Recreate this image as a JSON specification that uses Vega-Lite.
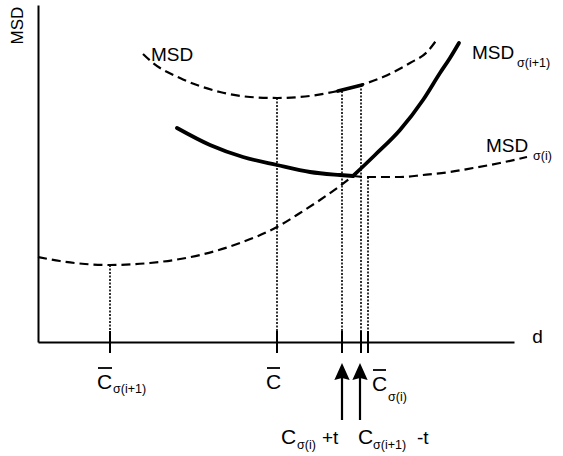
{
  "$schema": "https://vega.github.io/schema/vega-lite/v6.json",
  "width": 476,
  "height": 337,
  "autosize": {"type": "none"},
  "padding": {"left": 38, "top": 5, "right": 49, "bottom": 114},
  "background": "white",
  "config": {"view": {"stroke": null}, "font": "Liberation Sans"},
  "datasets": {
    "curves": [
      {"series": "MSD", "style": "dashed", "d": 105, "m": 288},
      {"series": "MSD", "style": "dashed", "d": 115, "m": 279},
      {"series": "MSD", "style": "dashed", "d": 142, "m": 264},
      {"series": "MSD", "style": "dashed", "d": 182, "m": 250},
      {"series": "MSD", "style": "dashed", "d": 212, "m": 245},
      {"series": "MSD", "style": "dashed", "d": 239, "m": 244},
      {"series": "MSD", "style": "dashed", "d": 262, "m": 245},
      {"series": "MSD", "style": "dashed", "d": 295, "m": 250},
      {"series": "MSD", "style": "dashed", "d": 304, "m": 252},
      {"series": "MSD", "style": "dashed", "d": 323, "m": 257},
      {"series": "MSD", "style": "dashed", "d": 345, "m": 265},
      {"series": "MSD", "style": "dashed", "d": 372, "m": 279},
      {"series": "MSD", "style": "dashed", "d": 389, "m": 290},
      {"series": "MSD", "style": "dashed", "d": 400, "m": 304},
      {"series": "MSD_seg", "style": "solid", "d": 300, "m": 251},
      {"series": "MSD_seg", "style": "solid", "d": 312, "m": 254},
      {"series": "MSD_seg", "style": "solid", "d": 324, "m": 257},
      {"series": "Si_left", "style": "solid", "d": 139, "m": 214},
      {"series": "Si_left", "style": "solid", "d": 172, "m": 197},
      {"series": "Si_left", "style": "solid", "d": 205, "m": 185},
      {"series": "Si_left", "style": "solid", "d": 239, "m": 177},
      {"series": "Si_left", "style": "solid", "d": 272, "m": 170},
      {"series": "Si_left", "style": "solid", "d": 302, "m": 167},
      {"series": "Si_left", "style": "solid", "d": 315, "m": 166},
      {"series": "Si_right", "style": "dashed", "d": 315, "m": 166},
      {"series": "Si_right", "style": "dashed", "d": 330, "m": 165},
      {"series": "Si_right", "style": "dashed", "d": 362, "m": 165},
      {"series": "Si_right", "style": "dashed", "d": 385, "m": 167},
      {"series": "Si_right", "style": "dashed", "d": 412, "m": 170},
      {"series": "Si_right", "style": "dashed", "d": 435, "m": 174},
      {"series": "Si_right", "style": "dashed", "d": 462, "m": 179},
      {"series": "Si_right", "style": "dashed", "d": 489, "m": 185},
      {"series": "Si1_left", "style": "dashed", "d": 0, "m": 85},
      {"series": "Si1_left", "style": "dashed", "d": 22, "m": 81},
      {"series": "Si1_left", "style": "dashed", "d": 47, "m": 78},
      {"series": "Si1_left", "style": "dashed", "d": 72, "m": 77},
      {"series": "Si1_left", "style": "dashed", "d": 112, "m": 79},
      {"series": "Si1_left", "style": "dashed", "d": 162, "m": 87},
      {"series": "Si1_left", "style": "dashed", "d": 202, "m": 99},
      {"series": "Si1_left", "style": "dashed", "d": 239, "m": 115},
      {"series": "Si1_left", "style": "dashed", "d": 262, "m": 129},
      {"series": "Si1_left", "style": "dashed", "d": 282, "m": 142},
      {"series": "Si1_left", "style": "dashed", "d": 302, "m": 156},
      {"series": "Si1_left", "style": "dashed", "d": 315, "m": 166},
      {"series": "Si1_right", "style": "solid", "d": 315, "m": 166},
      {"series": "Si1_right", "style": "solid", "d": 337, "m": 187},
      {"series": "Si1_right", "style": "solid", "d": 362, "m": 212},
      {"series": "Si1_right", "style": "solid", "d": 385, "m": 242},
      {"series": "Si1_right", "style": "solid", "d": 402, "m": 269},
      {"series": "Si1_right", "style": "solid", "d": 412, "m": 284},
      {"series": "Si1_right", "style": "solid", "d": 421, "m": 299}
    ],
    "guides": [
      {"d": 72, "m": 77, "m2": 0},
      {"d": 239, "m": 244, "m2": 0},
      {"d": 304, "m": 251, "m2": 0},
      {"d": 323, "m": 257, "m2": 0},
      {"d": 330, "m": 165, "m2": 0}
    ],
    "ticks": [
      {"d": 72, "m": 11, "m2": -11},
      {"d": 239, "m": 11, "m2": -11},
      {"d": 304, "m": 11, "m2": -11},
      {"d": 323, "m": 11, "m2": -11},
      {"d": 330, "m": 11, "m2": -11}
    ],
    "shafts": [
      {"d": 304, "m": -36, "m2": -78},
      {"d": 322, "m": -36, "m2": -78}
    ],
    "heads": [
      {"d": 304, "m": -29.5},
      {"d": 322, "m": -29.5}
    ],
    "bars": [
      {"d": 60, "d2": 74, "m": -26},
      {"d": 229, "d2": 242, "m": -26},
      {"d": 335, "d2": 348, "m": -28}
    ],
    "bigText": [
      {"label": "C", "d": 59, "m": -41},
      {"label": "C", "d": 228, "m": -41},
      {"label": "C", "d": 334, "m": -43},
      {"label": "C", "d": 243, "m": -96},
      {"label": "C", "d": 320, "m": -96}
    ],
    "mainText": [
      {"label": "MSD", "d": 113, "m": 287},
      {"label": "MSD", "d": 434, "m": 289},
      {"label": "MSD", "d": 448, "m": 196},
      {"label": "+t", "d": 284, "m": -96},
      {"label": "-t", "d": 379, "m": -96}
    ],
    "subText": [
      {"label": "σ(i+1)", "d": 479, "m": 279},
      {"label": "σ(i)", "d": 495, "m": 186},
      {"label": "σ(i+1)", "d": 75, "m": -47},
      {"label": "σ(i)", "d": 350, "m": -55},
      {"label": "σ(i)", "d": 259, "m": -103},
      {"label": "σ(i+1)", "d": 335, "m": -103}
    ]
  },
  "encoding": {
    "x": {
      "field": "d", "type": "quantitative",
      "scale": {"domain": [0, 476], "nice": false, "zero": false},
      "axis": {
        "domain": true, "domainColor": "black", "domainWidth": 2,
        "ticks": false, "labels": false, "grid": false,
        "title": "d", "titleX": 499, "titleY": -6, "titleAngle": 0,
        "titleAlign": "center", "titleBaseline": "middle",
        "titleFontSize": 19, "titleFontWeight": "normal", "titleColor": "black",
        "titleFont": "Liberation Sans"
      }
    },
    "y": {
      "field": "m", "type": "quantitative",
      "scale": {"domain": [0, 337], "nice": false, "zero": false},
      "axis": {
        "domain": true, "domainColor": "black", "domainWidth": 2,
        "ticks": false, "labels": false, "grid": false,
        "title": "MSD", "titleX": -21, "titleY": 20, "titleAngle": 270,
        "titleAlign": "center", "titleBaseline": "middle",
        "titleFontSize": 17, "titleFontWeight": "normal", "titleColor": "black",
        "titleFont": "Liberation Sans"
      }
    }
  },
  "layer": [
    {
      "data": {"name": "guides"},
      "mark": {"type": "rule", "color": "black", "strokeWidth": 1.6, "strokeDash": [2, 1.5]},
      "encoding": {"y2": {"field": "m2"}}
    },
    {
      "data": {"name": "curves"},
      "transform": [{"filter": "datum.style == 'dashed'"}],
      "mark": {"type": "line", "color": "black", "strokeWidth": 2.2, "strokeDash": [9, 5], "interpolate": "monotone", "clip": false},
      "encoding": {"detail": {"field": "series"}}
    },
    {
      "data": {"name": "curves"},
      "transform": [{"filter": "datum.style == 'solid'"}],
      "mark": {"type": "line", "color": "black", "strokeWidth": 3.8, "interpolate": "monotone", "strokeCap": "round", "clip": false},
      "encoding": {"detail": {"field": "series"}}
    },
    {
      "data": {"name": "ticks"},
      "mark": {"type": "rule", "color": "black", "strokeWidth": 2},
      "encoding": {"y2": {"field": "m2"}}
    },
    {
      "data": {"name": "shafts"},
      "mark": {"type": "rule", "color": "black", "strokeWidth": 2.2},
      "encoding": {"y2": {"field": "m2"}}
    },
    {
      "data": {"name": "heads"},
      "mark": {"type": "point", "shape": "M0,-1L-0.9,1L0,0.75L0.9,1Z", "size": 289, "filled": true, "color": "black", "opacity": 1}
    },
    {
      "data": {"name": "bars"},
      "mark": {"type": "rule", "color": "black", "strokeWidth": 1.8},
      "encoding": {"x2": {"field": "d2"}}
    },
    {
      "data": {"name": "bigText"},
      "mark": {"type": "text", "align": "left", "baseline": "middle", "fontSize": 21, "color": "black", "font": "Liberation Sans"},
      "encoding": {"text": {"field": "label"}}
    },
    {
      "data": {"name": "mainText"},
      "mark": {"type": "text", "align": "left", "baseline": "middle", "fontSize": 19, "color": "black", "font": "Liberation Sans"},
      "encoding": {"text": {"field": "label"}}
    },
    {
      "data": {"name": "subText"},
      "mark": {"type": "text", "align": "left", "baseline": "middle", "fontSize": 12.5, "color": "black", "font": "Liberation Sans"},
      "encoding": {"text": {"field": "label"}}
    }
  ]
}
